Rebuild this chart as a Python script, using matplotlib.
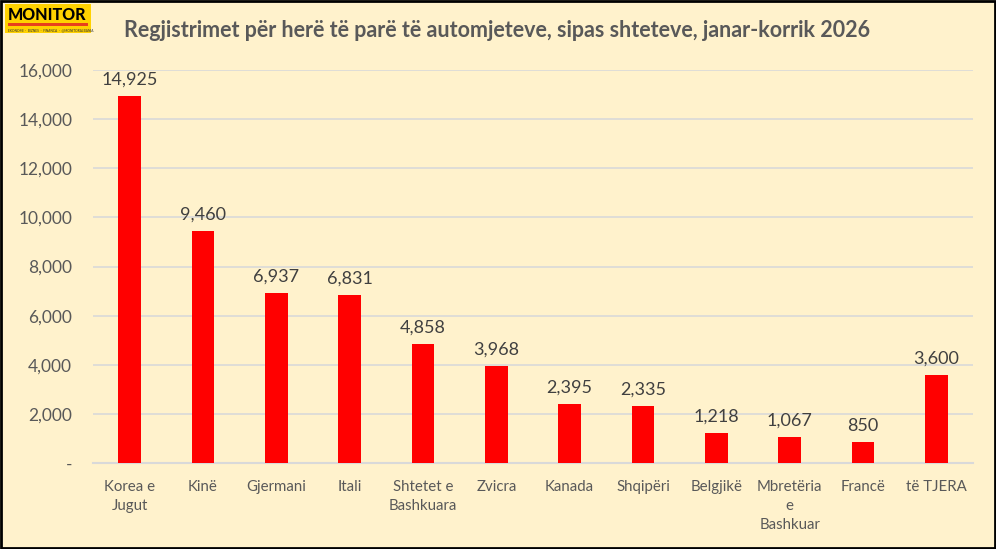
import numpy as np
import matplotlib.pyplot as plt
from matplotlib.patches import Rectangle
from matplotlib.ticker import FuncFormatter

# te dhenat
vendet = ["Korea e\nJugut", "Kinë", "Gjermani", "Itali", "Shtetet e\nBashkuara", "Zvicra",
          "Kanada", "Shqipëri", "Belgjikë", "Mbretëria\ne\nBashkuar", "Francë", "të TJERA"]
vlerat = [14925, 9460, 6937, 6831, 4858, 3968, 2395, 2335, 1218, 1067, 850, 3600]
yticks = [0, 2000, 4000, 6000, 8000, 10000, 12000, 14000, 16000]

bg = "#FFF2CC"
gri = "#595959"
plt.rcParams['font.family'] = ['Lato', 'DejaVu Sans']

fig = plt.figure(figsize=(9.96, 5.49), dpi=100, facecolor=bg)
ax = fig.add_axes([0.0934, 0.1566, 0.8835, 0.7159])
ax.set_facecolor(bg)

x = np.arange(len(vendet))
ax.bar(x, vlerat, width=0.31, color="#FF0000", zorder=3)
for xi, v in zip(x, vlerat):
    ax.annotate(f"{v:,}", (xi, v), xytext=(0, 6), textcoords="offset points",
                ha="center", va="bottom", fontsize=13, color="#404040")

ax.set_xlim(-0.5, len(vendet) - 0.5)
ax.set_ylim(0, 16000)
ax.set_yticks(yticks)
ax.yaxis.set_major_formatter(FuncFormatter(lambda v, p: "-" if v == 0 else f"{int(v):,}"))
ax.grid(axis="y", color="#D9D9D9", lw=1.2, zorder=0)
ax.set_xticks(x)
ax.set_xticklabels(vendet, fontsize=10.8, color=gri, linespacing=1.45)
ax.tick_params(axis="y", labelsize=12.5, colors=gri, length=0, pad=15)
ax.tick_params(axis="x", length=0, pad=12)
for s in ["top", "right", "left"]:
    ax.spines[s].set_visible(False)
ax.spines["bottom"].set_color("#D9D9D9")
ax.spines["bottom"].set_linewidth(1.5)

fig.text(0.499, 0.945, "Regjistrimet për herë të parë të automjeteve, sipas shteteve, janar-korrik 2026",
         ha="center", va="center", fontsize=15.5, fontweight="bold", color=gri)

# logo
fig.patches.append(Rectangle((5 / 996, 1 - 33 / 549), 86 / 996, 29 / 549,
                             transform=fig.transFigure, facecolor="#FFD200", edgecolor="none"))
fig.patches.append(Rectangle((8 / 996, 1 - 26 / 549), 80 / 996, 2.5 / 549,
                             transform=fig.transFigure, facecolor="#E8401C", edgecolor="none"))
fig.text(8 / 996, 1 - 15 / 549, "MONITOR", ha="left", va="center", fontsize=11.5,
         fontweight="black", color="black")
fig.text(8 / 996, 1 - 30 / 549, "EKONOMI  ·  BIZNES  ·  FINANCA  ·  @MONITORALBANIA", ha="left", va="center",
         fontsize=2.3, color="#333333")

# kornize
fig.patches.append(Rectangle((0.001, 0.002), 0.998, 0.996, transform=fig.transFigure,
                             facecolor="none", edgecolor="black", lw=2))

fig.savefig("out.png", dpi=100, facecolor=bg)
